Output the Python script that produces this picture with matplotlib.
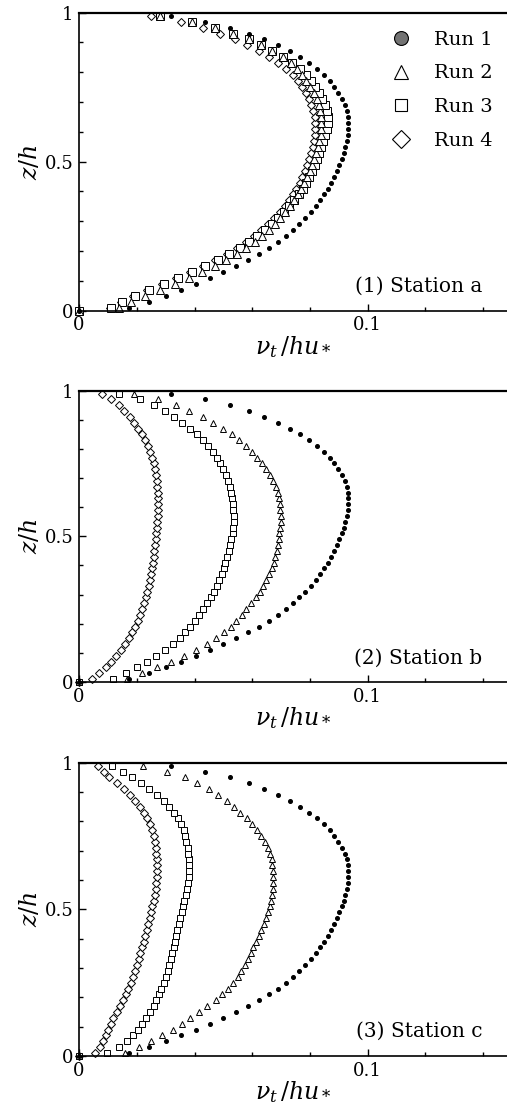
import matplotlib.pyplot as plt
from matplotlib.lines import Line2D
from matplotlib.ticker import MultipleLocator, FixedLocator

plt.rcParams['font.family'] = 'DejaVu Serif'
plt.rcParams['mathtext.fontset'] = 'dejavuserif'

# z/h levels of the profiles (origin point + 50 levels)
z_levels = [0.0, 0.01, 0.03, 0.05, 0.07, 0.09, 0.11, 0.13, 0.15, 0.17, 0.19,
            0.21, 0.23, 0.25, 0.27, 0.29, 0.31, 0.33, 0.35, 0.37, 0.39,
            0.41, 0.43, 0.45, 0.47, 0.49, 0.51, 0.53, 0.55, 0.57, 0.59,
            0.61, 0.63, 0.65, 0.67, 0.69, 0.71, 0.73, 0.75, 0.77, 0.79,
            0.81, 0.83, 0.85, 0.87, 0.89, 0.91, 0.93, 0.95, 0.97, 0.99]

# Run 1 (same profile at every station)
run1 = [0.0, 0.0172, 0.0243, 0.0301, 0.0354, 0.0404, 0.0453, 0.0500, 0.0545, 0.0586, 0.0624,
        0.0658, 0.0688, 0.0716, 0.0741, 0.0763, 0.0784, 0.0803, 0.0820, 0.0835, 0.0849,
        0.0861, 0.0873, 0.0884, 0.0894, 0.0902, 0.0910, 0.0917, 0.0923, 0.0928, 0.0931,
        0.0933, 0.0933, 0.0931, 0.0927, 0.0920, 0.0911, 0.0899, 0.0885, 0.0868, 0.0848,
        0.0823, 0.0797, 0.0765, 0.0730, 0.0689, 0.0642, 0.0589, 0.0522, 0.0437, 0.0318]

# station a
a_run2 = [0.0, 0.0140, 0.0180, 0.0228, 0.0280, 0.0331, 0.0380, 0.0427, 0.0470, 0.0510, 0.0546,
          0.0579, 0.0608, 0.0634, 0.0657, 0.0678, 0.0697, 0.0714, 0.0730, 0.0745, 0.0758,
          0.0770, 0.0781, 0.0791, 0.0800, 0.0808, 0.0815, 0.0822, 0.0828, 0.0833, 0.0837,
          0.0839, 0.0840, 0.0839, 0.0836, 0.0831, 0.0823, 0.0813, 0.0801, 0.0788, 0.0773,
          0.0755, 0.0733, 0.0705, 0.0670, 0.0632, 0.0589, 0.0534, 0.0470, 0.0393, 0.0281]
a_run3 = [0.0, 0.0112, 0.0150, 0.0193, 0.0242, 0.0293, 0.0343, 0.0392, 0.0438, 0.0481, 0.0521,
          0.0557, 0.0589, 0.0618, 0.0645, 0.0669, 0.0691, 0.0711, 0.0729, 0.0746, 0.0761,
          0.0775, 0.0787, 0.0798, 0.0808, 0.0817, 0.0825, 0.0833, 0.0840, 0.0847, 0.0853,
          0.0858, 0.0861, 0.0861, 0.0858, 0.0852, 0.0843, 0.0832, 0.0819, 0.0805, 0.0788,
          0.0765, 0.0737, 0.0706, 0.0670, 0.0632, 0.0589, 0.0534, 0.0470, 0.0393, 0.0281]
a_run4 = [0.0, 0.0108, 0.0146, 0.0188, 0.0236, 0.0287, 0.0336, 0.0384, 0.0430, 0.0472, 0.0511,
          0.0547, 0.0578, 0.0607, 0.0632, 0.0655, 0.0676, 0.0695, 0.0712, 0.0727, 0.0741,
          0.0753, 0.0764, 0.0774, 0.0783, 0.0791, 0.0798, 0.0804, 0.0809, 0.0813, 0.0816,
          0.0818, 0.0818, 0.0816, 0.0812, 0.0805, 0.0796, 0.0785, 0.0772, 0.0758, 0.0740,
          0.0717, 0.0690, 0.0658, 0.0622, 0.0583, 0.0540, 0.0488, 0.0428, 0.0353, 0.0249]

# station b
b_run2 = [0.0, 0.0165, 0.0218, 0.0270, 0.0320, 0.0365, 0.0405, 0.0442, 0.0474, 0.0503, 0.0527,
          0.0545, 0.0563, 0.0580, 0.0597, 0.0612, 0.0626, 0.0638, 0.0649, 0.0659, 0.0667,
          0.0674, 0.0680, 0.0685, 0.0689, 0.0692, 0.0694, 0.0697, 0.0699, 0.0699, 0.0698,
          0.0696, 0.0693, 0.0688, 0.0681, 0.0673, 0.0663, 0.0649, 0.0635, 0.0618, 0.0598,
          0.0578, 0.0555, 0.0529, 0.0499, 0.0465, 0.0428, 0.0382, 0.0335, 0.0272, 0.0191]
b_run3 = [0.0, 0.0118, 0.0163, 0.0200, 0.0235, 0.0268, 0.0298, 0.0326, 0.0350, 0.0368, 0.0385,
          0.0400, 0.0415, 0.0429, 0.0443, 0.0456, 0.0467, 0.0477, 0.0486, 0.0494, 0.0501,
          0.0507, 0.0513, 0.0518, 0.0522, 0.0526, 0.0532, 0.0535, 0.0536, 0.0536, 0.0535,
          0.0533, 0.0530, 0.0527, 0.0523, 0.0517, 0.0509, 0.0500, 0.0490, 0.0477, 0.0463,
          0.0447, 0.0428, 0.0407, 0.0384, 0.0357, 0.0330, 0.0299, 0.0260, 0.0210, 0.0140]
b_run4 = [0.0, 0.0045, 0.0068, 0.0092, 0.0110, 0.0128, 0.0145, 0.0160, 0.0173, 0.0185, 0.0195,
          0.0204, 0.0212, 0.0219, 0.0225, 0.0231, 0.0236, 0.0241, 0.0245, 0.0249, 0.0253,
          0.0256, 0.0259, 0.0261, 0.0263, 0.0265, 0.0267, 0.0269, 0.0271, 0.0272, 0.0273,
          0.0273, 0.0273, 0.0272, 0.0271, 0.0269, 0.0266, 0.0263, 0.0258, 0.0253, 0.0246,
          0.0238, 0.0228, 0.0217, 0.0205, 0.0190, 0.0175, 0.0157, 0.0137, 0.0110, 0.0078]

# station c
c_run2 = [0.0, 0.0158, 0.0206, 0.0250, 0.0288, 0.0325, 0.0356, 0.0386, 0.0414, 0.0442, 0.0475,
          0.0497, 0.0517, 0.0534, 0.0549, 0.0562, 0.0574, 0.0585, 0.0595, 0.0604, 0.0613,
          0.0622, 0.0630, 0.0640, 0.0648, 0.0655, 0.0660, 0.0665, 0.0669, 0.0672, 0.0673,
          0.0673, 0.0672, 0.0670, 0.0667, 0.0662, 0.0655, 0.0644, 0.0631, 0.0616, 0.0600,
          0.0581, 0.0559, 0.0537, 0.0511, 0.0482, 0.0450, 0.0410, 0.0366, 0.0306, 0.0220]
c_run3 = [0.0, 0.0096, 0.0138, 0.0166, 0.0186, 0.0203, 0.0219, 0.0233, 0.0246, 0.0258, 0.0268,
          0.0277, 0.0285, 0.0293, 0.0300, 0.0307, 0.0313, 0.0318, 0.0323, 0.0328, 0.0332,
          0.0337, 0.0341, 0.0346, 0.0350, 0.0355, 0.0359, 0.0364, 0.0369, 0.0373, 0.0377,
          0.0380, 0.0382, 0.0382, 0.0381, 0.0379, 0.0376, 0.0372, 0.0368, 0.0362, 0.0354,
          0.0343, 0.0329, 0.0312, 0.0293, 0.0270, 0.0244, 0.0214, 0.0183, 0.0151, 0.0114]
c_run4 = [0.0, 0.0055, 0.0072, 0.0083, 0.0093, 0.0101, 0.0110, 0.0119, 0.0130, 0.0141, 0.0152,
          0.0162, 0.0171, 0.0179, 0.0186, 0.0193, 0.0200, 0.0206, 0.0212, 0.0218, 0.0224,
          0.0229, 0.0235, 0.0240, 0.0245, 0.0250, 0.0254, 0.0258, 0.0262, 0.0265, 0.0268,
          0.0270, 0.0271, 0.0271, 0.0270, 0.0268, 0.0265, 0.0262, 0.0258, 0.0252, 0.0245,
          0.0236, 0.0225, 0.0212, 0.0195, 0.0177, 0.0155, 0.0130, 0.0105, 0.0085, 0.0066]

stations = ['(1) Station a', '(2) Station b', '(3) Station c']
run_labels = ['Run 1', 'Run 2', 'Run 3', 'Run 4']
panels = [(a_run2, a_run3, a_run4), (b_run2, b_run3, b_run4), (c_run2, c_run3, c_run4)]

fig = plt.figure(figsize=(5.07, 11.12), dpi=100)
boxes = [[0.156, 0.7206, 0.844, 0.268],
         [0.156, 0.3867, 0.844, 0.262],
         [0.156, 0.0504, 0.844, 0.2637]]
open_ms = [5.5, 4.6, 4.6]

for i, (box, (r2, r3, r4)) in enumerate(zip(boxes, panels)):
    ax = fig.add_axes(box)
    ms = open_ms[i]
    kw = dict(ls='none', mfc='white', mec='black', mew=0.7, clip_on=False)
    ax.plot(r4, z_levels, marker='D', ms=ms * 0.8, **kw)
    ax.plot(r3, z_levels, marker='s', ms=ms, **kw)
    ax.plot(r2, z_levels, marker='^', ms=ms, **kw)
    ax.plot(run1, z_levels, ls='none', marker='o', ms=2.6, color='black', clip_on=False)

    ax.set_xlim(0, 0.1483)
    ax.set_ylim(0, 1)
    ax.xaxis.set_major_locator(FixedLocator([0, 0.1]))
    ax.xaxis.set_minor_locator(MultipleLocator(0.02))
    ax.yaxis.set_major_locator(FixedLocator([0, 0.5, 1]))
    ax.yaxis.set_minor_locator(MultipleLocator(0.1))
    ax.set_xticklabels(['0', '0.1'])
    ax.set_yticklabels(['0', '0.5', '1'])
    ax.tick_params(which='both', direction='in', labelsize=13, width=1)
    ax.tick_params(which='major', length=5, pad=4)
    ax.tick_params(which='minor', length=3)
    ax.spines['right'].set_visible(False)
    ax.spines['top'].set_linewidth(1.6)
    ax.spines['left'].set_linewidth(1.2)
    ax.spines['bottom'].set_linewidth(1.2)

    ax.set_xlabel(r'$\nu_t\,/hu_*$', fontsize=17, labelpad=0)
    ax.set_ylabel(r'$z/h$', fontsize=17, labelpad=2)
    ax.text(0.942, 0.064, stations[i], transform=ax.transAxes,
            ha='right', va='baseline', fontsize=14.5)

    if i == 0:
        handles = [Line2D([], [], ls='none', marker='o', ms=10, mfc='0.45', mec='black', mew=0.8),
                   Line2D([], [], ls='none', marker='^', ms=10, mfc='white', mec='black', mew=0.8),
                   Line2D([], [], ls='none', marker='s', ms=9, mfc='white', mec='black', mew=0.8),
                   Line2D([], [], ls='none', marker='D', ms=9, mfc='white', mec='black', mew=0.8)]
        ax.legend(handles, run_labels, loc='upper right', bbox_to_anchor=(0.984, 0.965),
                  frameon=False, fontsize=14, handlelength=1.0, handletextpad=1.2,
                  labelspacing=0.8, borderaxespad=0)

fig.savefig('out.png', dpi=100)
